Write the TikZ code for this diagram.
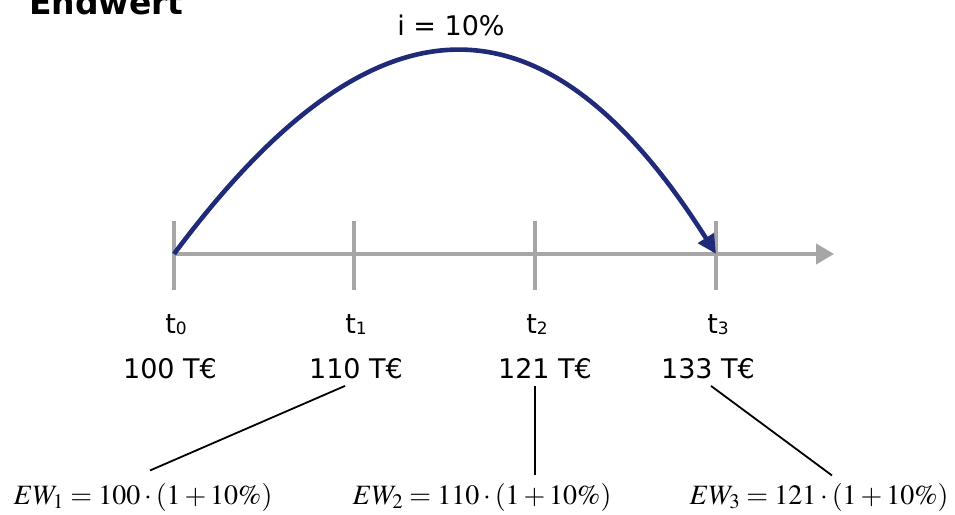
\documentclass[tikz,border=0pt]{standalone}
\usepackage{mathptmx}
\usepackage[no-math]{fontspec}
\setmainfont{DejaVu Sans}
\usetikzlibrary{arrows.meta}
\definecolor{axisgray}{HTML}{A6A6A6}
\definecolor{arcblue}{HTML}{1F2A78}

\begin{document}
\begin{tikzpicture}[x=1pt,y=-1pt,
        lbl/.style={font=\fontsize{27}{30}\selectfont,anchor=base},
        frm/.style={font=\fontsize{28}{30}\selectfont,anchor=base},
        leader/.style={black,line width=1.8pt},
        axis/.style={axisgray,line width=4pt}]
        \useasboundingbox (0,0) rectangle (955,514);
        \node[anchor=base west,inner sep=0,font=\fontsize{33}{36}\selectfont\bfseries] (title) at (29,14) {Endwert};
        % time axis
        \coordinate (start) at (174,254);
        \coordinate (end) at (834,254);
        \draw[axis,-{Triangle[length=18pt,width=20pt]}] (start) -- (end);
        \foreach \x/\n in {174/0,354/1,535/2,716/3}{
            \draw[axis] (\x,221) -- (\x,290);
            \coordinate (k\n) at (\x,254);
        }
        % interest arc
        \draw[arcblue,line width=4.6pt,-{Triangle[length=19pt,width=18pt]}] (k0) .. controls (375,-16) and (545,-16) .. (k3);
        \node[lbl] (rate) at (451,35) {i = 10\%};
        % labels below the axis
        \node[lbl] (t0) at (176,333) {t\raisebox{-1pt}{\fontsize{17}{17}\selectfont 0}};
        \node[lbl] (t1) at (356,333) {t\raisebox{-1pt}{\fontsize{17}{17}\selectfont 1}};
        \node[lbl] (t2) at (537,333) {t\raisebox{-1pt}{\fontsize{17}{17}\selectfont 2}};
        \node[lbl] (t3) at (718,333) {t\raisebox{-1pt}{\fontsize{17}{17}\selectfont 3}};
        \node[lbl] (v0) at (170,378) {100 T€};
        \node[lbl] (v1) at (356,378) {110 T€};
        \node[lbl] (v2) at (545,378) {121 T€};
        \node[lbl] (v3) at (708,378) {133 T€};
        % formulas
        \node[frm] (f1) at (143,504) {$EW_1 = 100 \cdot (1 + 10\%)$};
        \node[frm] (f2) at (482,504) {$EW_2 = 110 \cdot (1 + 10\%)$};
        \node[frm] (f3) at (819,504) {$EW_3 = 121 \cdot (1 + 10\%)$};
        \draw[leader] ([xshift=-11pt,yshift=-4pt]v1.south) -- ([xshift=7pt,yshift=9pt]f1.north);
        \draw[leader] ([xshift=-10pt,yshift=-4pt]v2.south) coordinate (a2) -- ([yshift=4pt]a2 |- f2.north);
        \draw[leader] ([xshift=3pt,yshift=-4pt]v3.south) -- ([xshift=13pt,yshift=4pt]f3.north);
    \end{tikzpicture}
\end{document}
